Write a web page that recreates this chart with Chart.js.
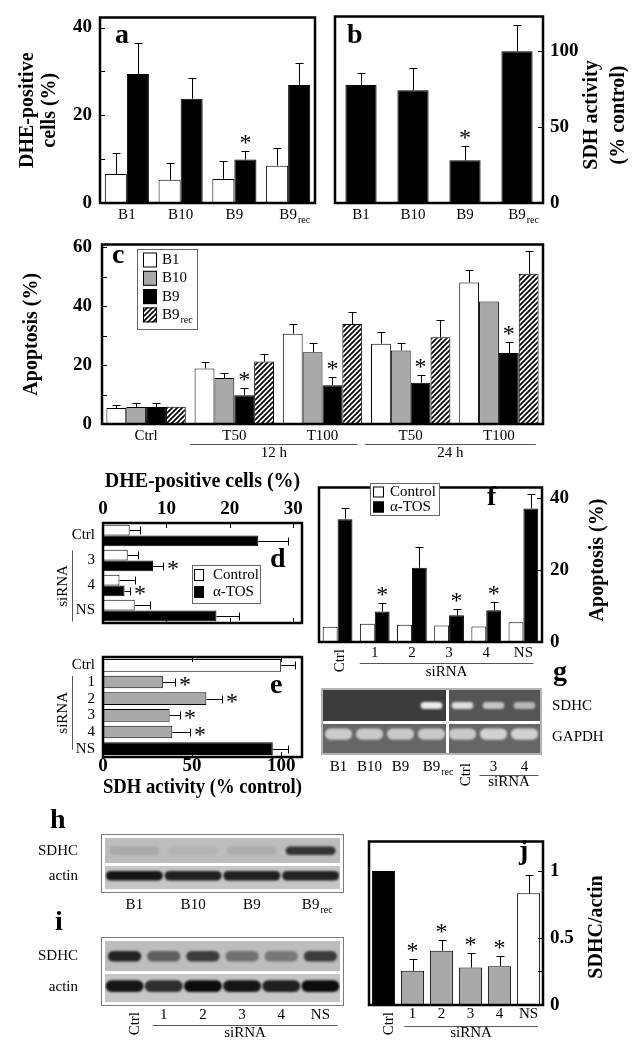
<!DOCTYPE html>
<html>
<head>
<meta charset="utf-8">
<script src="https://cdn.jsdelivr.net/npm/chart.js@4.4.1/dist/chart.umd.min.js"></script>
<style>
  html, body { margin: 0; padding: 0; background: #fff; }
  body { position: relative; width: 640px; height: 1050px; overflow: hidden; }
  canvas { position: absolute; }
</style>
</head>
<body>
<script>
// ---------- data ----------
// a: DHE-positive cells (%), clones
var lines = ['B1', 'B10', 'B9', 'B9rec'];
var dheCtrl = [6.6, 5.3, 5.5, 8.5];
var dheCtrlErr = [11.5, 9.1, 9.6, 12.6];
var dheTos = [29.4, 23.8, 9.9, 26.9];
var dheTosErr = [36.5, 28.5, 11.8, 31.9];
var dheTosStar = [0, 0, 1, 0];
var aTicks = [0, 10, 20, 30, 40];
// b: SDH activity (% control)
var sdh = [77.8, 74.3, 28.1, 100];
var sdhErr = [85.8, 88.9, 37.3, 117.4];
var sdhStar = [0, 0, 1, 0];
var bTicks = [0, 50, 100];
// c: apoptosis (%)
var conds = ['Ctrl', 'T50', 'T100', 'T50', 'T100'];
var apoB1 = [5.4, 18.9, 30.7, 27.3, 48.1];
var apoB1Err = [6.6, 21.0, 34.0, 31.2, 52.5];
var apoB10 = [5.8, 15.6, 24.4, 25.0, 41.6];
var apoB10Err = [7.0, 17.4, 27.4, 27.6, null];
var apoB9 = [5.8, 9.8, 13.2, 14.0, 24.1];
var apoB9Err = [7.2, 12.3, 16.1, 16.6, 27.9];
var apoB9Star = [0, 1, 1, 1, 1];
var apoRec = [5.9, 21.2, 34.0, 29.5, 51.1];
var apoRecErr = [null, 23.7, 38.1, 35.3, 58.7];
var cTicks = [0, 10, 20, 30, 40, 50, 60];
// d: DHE-positive cells after siRNA
var dCats = ['Ctrl', '3', '4', 'NS'];
var kdDheCtrl = [4.2, 3.9, 2.6, 5.0];
var kdDheCtrlErr = [5.8, 5.5, 5.0, 7.4];
var kdDheTos = [24.5, 7.9, 3.4, 17.9];
var kdDheTosErr = [29.2, 9.5, 4.3, 21.5];
var kdDheTosStar = [0, 1, 1, 0];
var dTicks = [0, 10, 20, 30];
// e: SDH activity after siRNA
var kdCats = ['Ctrl', '1', '2', '3', '4', 'NS'];
var kdSdh = [100, 33.6, 58, 37.4, 38.9, 95.3];
var kdSdhErr = [107.5, 40.2, 66.7, 43, 48.6, 104];
var kdSdhStar = [0, 1, 1, 1, 1, 0];
var eTicks = [0, 50, 100];
// f: apoptosis after siRNA
var kdApoCtrl = [4.2, 5.1, 4.8, 4.6, 4.3, 5.5];
var kdApoTos = [34.1, 8.5, 20.6, 7.4, 8.8, 37.1];
var kdApoTosErr = [37.3, 10.7, 26.5, 9.1, 11.1, 41];
var kdApoTosStar = [0, 1, 0, 1, 1, 0];
var fTicks = [0, 20, 40];
// g: RT-PCR gel, band intensity 0..1
var gelLanes = ['B1', 'B10', 'B9', 'B9rec', 'Ctrl', '3', '4'];
var gelRows = ['SDHC', 'GAPDH'];
var gelSdhc = [0, 0, 0, 0.95, 0.85, 0.7, 0.62];
var gelGapdh = [0.74, 0.72, 0.72, 0.72, 0.72, 0.78, 0.78];
// h, i: western blots, band intensity 0..1
var blotRows = ['SDHC', 'actin'];
var hLanes = ['B1', 'B10', 'B9', 'B9rec'];
var hSdhc = [0.12, 0.06, 0.1, 0.8];
var hActin = [0.95, 0.9, 0.9, 0.88];
var iLanes = ['Ctrl', '1', '2', '3', '4', 'NS'];
var iSdhc = [0.9, 0.55, 0.75, 0.45, 0.4, 0.75];
var iActin = [0.95, 0.82, 1, 0.95, 0.9, 1];
// j: SDHC/actin
var ratio = [1.0, 0.255, 0.405, 0.279, 0.29, 0.833];
var ratioErr = [null, 0.345, 0.483, 0.386, 0.369, 0.969];
var ratioStar = [0, 1, 1, 1, 1, 0];
var jTicks = [0, 0.25, 0.5, 1];

// ---------- shared setup ----------
Chart.defaults.font.family = '"Liberation Serif", "Times New Roman", serif';
Chart.defaults.color = '#000';
var FAM = Chart.defaults.font.family;
var NUM = {size: 19, weight: 'bold', lineHeight: 1};
var TTL = {size: 20, weight: 'bold', lineHeight: 1.1};
var CAT = {size: 15, lineHeight: 1.2};
var OFF = {display: false, drawTicks: false};
var NOB = {display: false};
var GREY = '#a9a9a9';

var deco = new Map();   // per-canvas extras

function place(L, T, W, H) {
  var c = document.createElement('canvas');
  c.width = W; c.height = H;
  c.style.left = L + 'px'; c.style.top = T + 'px';
  document.body.appendChild(c);
  return c;
}
function fixW(w) { return function (s) { s.width = w; }; }
function fixH(h) { return function (s) { s.height = h; }; }
function useTicks(list) { return function (s) { s.ticks = list.map(function (v) { return {value: v}; }); }; }
function every(step) { return function (v) { return Math.abs(v / step - Math.round(v / step)) > 1e-6 ? '' : v; }; }
function laneTick(rot) {
  return function (v, i) {
    if (i === rot) return '';
    return String(this.getLabelForValue(v)).replace(/rec$/, '');
  };
}
function base(o) {
  o.responsive = false; o.animation = false; o.devicePixelRatio = 1; o.events = [];
  o.plugins = {legend: {display: false}, tooltip: {enabled: false}};
  return o;
}
function mix(c1, c2, t) {
  var p = function (h) { return [1, 3, 5].map(function (k) { return parseInt(h.slice(k, k + 2), 16); }); };
  var A = p(c1), B = p(c2);
  return 'rgb(' + A.map(function (v, k) { return Math.round(v + (B[k] - v) * t); }).join(',') + ')';
}
function hatch() {
  var c = document.createElement('canvas'); c.width = c.height = 5;
  var g = c.getContext('2d');
  g.fillStyle = '#fff'; g.fillRect(0, 0, 5, 5);
  g.strokeStyle = '#000'; g.lineWidth = 1.7;
  g.beginPath();
  g.moveTo(-1, 6); g.lineTo(6, -1);
  g.moveTo(-1, 1); g.lineTo(1, -1);
  g.moveTo(4, 6); g.lineTo(6, 4);
  g.stroke();
  return g.createPattern(c, 'repeat');
}
var HATCH = hatch();

function drawErrors(chart) {
  var ctx = chart.ctx, horiz = chart.options.indexAxis === 'y';
  var vs = horiz ? chart.scales.x : chart.scales.y;
  ctx.save();
  ctx.strokeStyle = '#000'; ctx.fillStyle = '#000'; ctx.lineWidth = 1;
  chart.data.datasets.forEach(function (ds, i) {
    if (!ds.err && !ds.star) return;
    chart.getDatasetMeta(i).data.forEach(function (el, j) {
      var tip = horiz ? el.x : el.y;
      if (ds.err && ds.err[j] != null) {
        tip = Math.round(vs.getPixelForValue(ds.err[j]));
        ctx.beginPath();
        if (horiz) {
          var y = Math.round(el.y) + 0.5;
          ctx.moveTo(el.x, y); ctx.lineTo(tip, y);
          ctx.moveTo(tip + 0.5, y - 4); ctx.lineTo(tip + 0.5, y + 4);
        } else {
          var x = Math.round(el.x) + 0.5;
          ctx.moveTo(x, el.y); ctx.lineTo(x, tip);
          ctx.moveTo(x - 4, tip + 0.5); ctx.lineTo(x + 4, tip + 0.5);
        }
        ctx.stroke();
      }
      if (ds.star && ds.star[j]) {
        ctx.font = '24px ' + FAM;
        ctx.textBaseline = 'alphabetic';
        if (horiz) { ctx.textAlign = 'left'; ctx.fillText('*', tip + 4, el.y + 10); }
        else { ctx.textAlign = 'center'; ctx.fillText('*', el.x, tip - 1); }
      }
    });
  });
  ctx.restore();
}

function subLabel(ctx, text, x, y, align) {
  // draws "B9rec" as B9 with a small "rec"
  var main = text.replace(/rec$/, '');
  ctx.font = '15px ' + FAM; ctx.textBaseline = 'middle'; ctx.textAlign = align;
  ctx.fillText(main, x, y);
  if (main !== text) {
    var w = ctx.measureText(main).width;
    var x0 = align === 'center' ? x + w / 2 : x + w;
    ctx.font = '10px ' + FAM; ctx.textAlign = 'left';
    ctx.fillText('rec', x0 + 1, y + 5);
  }
}

function blotBg(chart, b) {
  var ctx = chart.ctx, a = chart.chartArea, xs = chart.scales.x;
  var mid = Math.round(chart.scales.y.getPixelForValue(1));
  var cut = b.split ? Math.round((xs.getPixelForTick(b.split - 1) + xs.getPixelForTick(b.split)) / 2) : null;
  ctx.save();
  ctx.strokeStyle = b.frame; ctx.lineWidth = b.fw;
  ctx.strokeRect(a.left - b.fo, a.top - b.fo, a.width + 2 * b.fo, a.height + 2 * b.fo);
  [[a.top, mid - 1], [mid + 2, a.bottom]].forEach(function (r, k) {
    if (cut) {
      ctx.fillStyle = b.bg[k][0]; ctx.fillRect(a.left, r[0], cut - 1 - a.left, r[1] - r[0]);
      ctx.fillStyle = b.bg[k][1]; ctx.fillRect(cut + 2, r[0], a.right - cut - 2, r[1] - r[0]);
    } else {
      ctx.fillStyle = b.bg[k][0]; ctx.fillRect(a.left, r[0], a.width, r[1] - r[0]);
    }
  });
  ctx.restore();
}

Chart.register({
  id: 'deco',
  beforeDatasetsDraw: function (chart) {
    var o = deco.get(chart.canvas); if (!o) return;
    if (o.blot) blotBg(chart, o.blot);
    if (o.blur) { chart.ctx.save(); chart.ctx.filter = 'blur(' + o.blur + 'px)'; }
  },
  afterDatasetsDraw: function (chart) {
    var o = deco.get(chart.canvas) || {};
    if (o.blur) chart.ctx.restore();
    drawErrors(chart);
  },
  afterDraw: function (chart) {
    var o = deco.get(chart.canvas); if (!o) return;
    var ctx = chart.ctx, a = chart.chartArea;
    var L = parseFloat(chart.canvas.style.left), T = parseFloat(chart.canvas.style.top);
    ctx.save();
    ctx.fillStyle = '#000';
    // inner tick marks
    (o.inTicks || []).forEach(function (t) {
      var sc = chart.scales[t.axis];
      ctx.strokeStyle = '#000'; ctx.lineWidth = 1;
      sc.ticks.forEach(function (tk) {
        var p = Math.round(sc.getPixelForValue(tk.value)) + 0.5;
        ctx.beginPath();
        if (t.side === 'left' || t.side === 'right') {
          if (p < a.top + 3 || p > a.bottom - 3) return;
          var x0 = t.side === 'left' ? a.left : a.right - 5;
          ctx.moveTo(x0, p); ctx.lineTo(x0 + 5, p);
        } else {
          if (p < a.left + 3 || p > a.right - 3) return;
          var y0 = t.side === 'top' ? a.top : a.bottom - 5;
          ctx.moveTo(p, y0); ctx.lineTo(p, y0 + 5);
        }
        ctx.stroke();
      });
    });
    // plot frame
    if (o.frame) {
      ctx.strokeStyle = '#000'; ctx.lineWidth = o.frame;
      ctx.strokeRect(a.left, a.top, a.width, a.height);
    }
    // panel letter
    if (o.letter) {
      ctx.font = 'bold 28px ' + FAM; ctx.textAlign = 'left'; ctx.textBaseline = 'alphabetic';
      ctx.fillText(o.letter[0], o.letter[1] - L, o.letter[2] - T);
    }
    // legend
    if (o.legend) {
      var g = o.legend, gx = g.x - L, gy = g.y - T;
      ctx.fillStyle = '#fff'; ctx.fillRect(gx, gy, g.w, g.h);
      ctx.strokeStyle = '#666'; ctx.lineWidth = 1; ctx.strokeRect(gx + 0.5, gy + 0.5, g.w, g.h);
      chart.data.datasets.forEach(function (ds, k) {
        var cy = gy + g.first + k * g.step;
        ctx.fillStyle = ds.backgroundColor;
        ctx.fillRect(gx + g.sx, cy - g.sh / 2, g.sw, g.sh);
        ctx.strokeStyle = '#000';
        ctx.strokeRect(gx + g.sx + 0.5, cy - g.sh / 2 + 0.5, g.sw - 1, g.sh - 1);
        ctx.fillStyle = '#000';
        subLabel(ctx, ds.label, gx + g.tx, cy, 'left');
      });
    }
    // subscript "rec" on lane labels
    if (o.sub) {
      var sx = chart.scales.x, fs = sx.options.ticks.font.size;
      var cyy = sx.top + sx.options.ticks.padding + fs * 0.6;
      chart.data.labels.forEach(function (lab, k) {
        if (!/rec$/.test(lab)) return;
        ctx.font = fs + 'px ' + FAM;
        var w = ctx.measureText(lab.replace(/rec$/, '')).width;
        ctx.font = '10px ' + FAM; ctx.textAlign = 'left'; ctx.textBaseline = 'middle'; ctx.fillStyle = '#000';
        ctx.fillText('rec', sx.getPixelForTick(k) + w / 2 + 1, cyy + 5);
      });
    }
    // rotated lane label
    if (o.rot) {
      var rx = chart.scales.x.getPixelForTick(o.rot.i) + o.rot.dx;
      ctx.save();
      ctx.translate(rx, a.bottom + o.rot.dy);
      ctx.rotate(-Math.PI / 2);
      ctx.font = '15px ' + FAM; ctx.textAlign = 'right'; ctx.textBaseline = 'middle'; ctx.fillStyle = '#000';
      ctx.fillText(chart.data.labels[o.rot.i], 0, 0);
      ctx.restore();
    }
    // group brackets (siRNA, 12 h, 24 h)
    (o.groups || []).forEach(function (gr) {
      ctx.strokeStyle = '#555'; ctx.lineWidth = 1; ctx.fillStyle = '#000';
      ctx.font = '15px ' + FAM; ctx.textAlign = 'center'; ctx.textBaseline = 'middle';
      ctx.beginPath();
      if (chart.options.indexAxis === 'y') {
        var ys = chart.scales.y;
        var y0 = ys.getPixelForTick(gr.a) - gr.e0, y1 = ys.getPixelForTick(gr.b) + gr.e1;
        var lx = a.left + gr.dx + 0.5;
        ctx.moveTo(lx, y0); ctx.lineTo(lx, y1); ctx.stroke();
        ctx.save();
        ctx.translate(a.left + gr.tx, (y0 + y1) / 2);
        ctx.rotate(-Math.PI / 2);
        ctx.fillText(gr.text, 0, 0);
        ctx.restore();
      } else {
        var xs = chart.scales.x;
        var x0 = xs.getPixelForTick(gr.a) - gr.e0, x1 = xs.getPixelForTick(gr.b) + gr.e1;
        var ly = a.bottom + gr.dy + 0.5;
        ctx.moveTo(x0, ly); ctx.lineTo(x1, ly); ctx.stroke();
        ctx.fillText(gr.text, (x0 + x1) / 2, a.bottom + gr.ty);
      }
    });
    // right-hand axis title, reading bottom to top
    if (o.rtitle) {
      var r = o.rtitle;
      ctx.save();
      ctx.translate(r.x - L, r.y - T);
      ctx.rotate(-Math.PI / 2);
      ctx.font = 'bold 20px ' + FAM; ctx.textAlign = 'center'; ctx.textBaseline = 'middle'; ctx.fillStyle = '#000';
      r.lines.forEach(function (s, k) { ctx.fillText(s, 0, k * r.lh); });
      ctx.restore();
    }
    ctx.restore();
  }
});

// ---------- a ----------
var cA = place(0, 0, 330, 232);
deco.set(cA, {frame: 2.5, letter: ['a', 115, 43], sub: true, inTicks: [{axis: 'y', side: 'left'}]});
new Chart(cA, {
  type: 'bar',
  data: {labels: lines, datasets: [
    {data: dheCtrl, err: dheCtrlErr, backgroundColor: '#fff', borderColor: '#000', borderWidth: 1},
    {data: dheTos, err: dheTosErr, star: dheTosStar, backgroundColor: '#000', borderColor: '#000', borderWidth: 1}
  ]},
  options: base({
    layout: {padding: {top: 15, right: 15, bottom: 0, left: 0}},
    datasets: {bar: {categoryPercentage: 0.82, barPercentage: 1}},
    scales: {
      x: {grid: OFF, border: NOB, afterFit: fixH(29),
          ticks: {font: CAT, padding: 3, autoSkip: false, maxRotation: 0, callback: laneTick(-1)}},
      y: {min: 0, max: 42.3, grid: OFF, border: NOB, afterFit: fixW(100), afterBuildTicks: useTicks(aTicks),
          ticks: {font: NUM, padding: 8, callback: every(20)},
          title: {display: true, text: ['DHE-positive', 'cells (%)'], font: TTL, padding: {top: 17}}}
    }
  })
});

// ---------- b ----------
var cB = place(330, 0, 310, 232);
deco.set(cB, {frame: 2.5, letter: ['b', 347, 43], sub: true, inTicks: [{axis: 'y', side: 'right'}],
  rtitle: {lines: ['SDH activity', '(% control)'], x: 592, y: 115, lh: 27}});
new Chart(cB, {
  type: 'bar',
  data: {labels: lines, datasets: [
    {data: sdh, err: sdhErr, star: sdhStar, backgroundColor: '#000', borderColor: '#000', borderWidth: 1}
  ]},
  options: base({
    layout: {padding: {top: 15, right: 0, bottom: 0, left: 5}},
    datasets: {bar: {categoryPercentage: 1, barPercentage: 0.6}},
    scales: {
      x: {grid: OFF, border: NOB, afterFit: fixH(29),
          ticks: {font: CAT, padding: 3, autoSkip: false, maxRotation: 0, callback: laneTick(-1)}},
      y: {position: 'right', min: 0, max: 122.9, grid: OFF, border: NOB, afterFit: fixW(97), afterBuildTicks: useTicks(bTicks),
          ticks: {font: NUM, padding: 7}}
    }
  })
});

// ---------- c ----------
var cC = place(0, 225, 560, 240);
deco.set(cC, {frame: 2.5, letter: ['c', 112, 263], inTicks: [{axis: 'y', side: 'left'}],
  legend: {x: 137, y: 249, w: 60, h: 80, first: 11, step: 18.3, sx: 6, sw: 14, sh: 15, tx: 25},
  groups: [{a: 1, b: 2, e0: 44, e1: 35, dy: 20, ty: 29, text: '12 h'},
           {a: 3, b: 4, e0: 46, e1: 37, dy: 20, ty: 29, text: '24 h'}]});
new Chart(cC, {
  type: 'bar',
  data: {labels: conds, datasets: [
    {label: 'B1', data: apoB1, err: apoB1Err, backgroundColor: '#fff', borderColor: '#000', borderWidth: 1},
    {label: 'B10', data: apoB10, err: apoB10Err, backgroundColor: GREY, borderColor: '#000', borderWidth: 1},
    {label: 'B9', data: apoB9, err: apoB9Err, star: apoB9Star, backgroundColor: '#000', borderColor: '#000', borderWidth: 1},
    {label: 'B9rec', data: apoRec, err: apoRecErr, backgroundColor: HATCH, borderColor: '#000', borderWidth: 1}
  ]},
  options: base({
    layout: {padding: {top: 14, right: 17, bottom: 0, left: 0}},
    datasets: {bar: {categoryPercentage: 0.9, barPercentage: 1}},
    scales: {
      x: {grid: OFF, border: NOB, afterFit: fixH(41),
          ticks: {font: CAT, padding: 3, autoSkip: false, maxRotation: 0}},
      y: {min: 0, max: 61, grid: OFF, border: NOB, afterFit: fixW(102), afterBuildTicks: useTicks(cTicks),
          ticks: {font: NUM, padding: 10, callback: every(20)},
          title: {display: true, text: 'Apoptosis (%)', font: TTL, padding: {top: 21}}}
    }
  })
});

// ---------- d ----------
var cD = place(0, 470, 320, 170);
deco.set(cD, {frame: 2.5, letter: ['d', 270, 567], inTicks: [{axis: 'x', side: 'top'}, {axis: 'x', side: 'bottom'}],
  legend: {x: 192, y: 565, w: 68, h: 38, first: 10, step: 17, sx: 2, sw: 10, sh: 12, tx: 21},
  groups: [{a: 1, b: 3, e0: 10, e1: 11, dx: -31, tx: -40, text: 'siRNA'}]});
new Chart(cD, {
  type: 'bar',
  data: {labels: dCats, datasets: [
    {label: 'Control', data: kdDheCtrl, err: kdDheCtrlErr, backgroundColor: '#fff', borderColor: '#000', borderWidth: 1},
    {label: 'α-TOS', data: kdDheTos, err: kdDheTosErr, star: kdDheTosStar, backgroundColor: '#000', borderColor: '#000', borderWidth: 1}
  ]},
  options: base({
    indexAxis: 'y',
    layout: {padding: {top: 0, right: 18, bottom: 4, left: 0}},
    datasets: {bar: {categoryPercentage: 0.86, barPercentage: 1}},
    scales: {
      y: {grid: OFF, border: NOB, afterFit: fixW(103),
          ticks: {font: CAT, padding: 8, autoSkip: false}},
      x: {position: 'top', min: 0, max: 31.4, grid: OFF, border: NOB, afterFit: fixH(53), afterBuildTicks: useTicks(dTicks),
          ticks: {font: NUM, padding: 4},
          title: {display: true, text: 'DHE-positive cells (%)', font: TTL, padding: {top: 1, bottom: 0}}}
    }
  })
});

// ---------- e ----------
var cE = place(0, 640, 320, 160);
deco.set(cE, {frame: 2.5, letter: ['e', 270, 693], inTicks: [{axis: 'x', side: 'top'}, {axis: 'x', side: 'bottom'}],
  groups: [{a: 1, b: 5, e0: 6, e1: 1, dx: -31, tx: -40, text: 'siRNA'}]});
new Chart(cE, {
  type: 'bar',
  data: {labels: kdCats, datasets: [
    {data: kdSdh, err: kdSdhErr, star: kdSdhStar,
     backgroundColor: ['#fff', GREY, GREY, GREY, GREY, '#000'], borderColor: '#000', borderWidth: 1}
  ]},
  options: base({
    indexAxis: 'y',
    layout: {padding: {top: 6, right: 18, bottom: 0, left: 0}},
    datasets: {bar: {categoryPercentage: 0.76, barPercentage: 1}},
    scales: {
      y: {grid: OFF, border: NOB, afterFit: fixW(103),
          ticks: {font: CAT, padding: 8, autoSkip: false}},
      x: {min: 0, max: 111.7, grid: OFF, border: NOB, afterFit: fixH(43), afterBuildTicks: useTicks(eTicks),
          ticks: {font: NUM, padding: 0},
          title: {display: true, text: 'SDH activity (% control)', font: TTL, padding: {top: 0, bottom: 1}}}
    }
  })
});

// ---------- f ----------
var cF = place(315, 470, 325, 215);
deco.set(cF, {frame: 2.5, letter: ['f', 487, 505], inTicks: [{axis: 'y', side: 'right'}],
  legend: {x: 370, y: 483, w: 69, h: 32, first: 9, step: 15, sx: 3, sw: 11, sh: 11, tx: 20},
  rot: {i: 0, dx: 2, dy: 7},
  groups: [{a: 1, b: 5, e0: 15, e1: 10, dy: 21, ty: 30, text: 'siRNA'}],
  rtitle: {lines: ['Apoptosis (%)'], x: 598, y: 560, lh: 0}});
new Chart(cF, {
  type: 'bar',
  data: {labels: kdCats, datasets: [
    {label: 'Control', data: kdApoCtrl, backgroundColor: '#fff', borderColor: '#000', borderWidth: 1},
    {label: 'α-TOS', data: kdApoTos, err: kdApoTosErr, star: kdApoTosStar, backgroundColor: '#000', borderColor: '#000', borderWidth: 1}
  ]},
  options: base({
    layout: {padding: {top: 7, right: 0, bottom: 0, left: 4}},
    datasets: {bar: {categoryPercentage: 0.8, barPercentage: 1}},
    scales: {
      x: {grid: OFF, border: NOB, afterFit: fixH(43),
          ticks: {font: CAT, padding: 2, autoSkip: false, maxRotation: 0, callback: laneTick(0)}},
      y: {position: 'right', min: 0, max: 42.9, grid: OFF, border: NOB, afterFit: fixW(98), afterBuildTicks: useTicks(fTicks),
          ticks: {font: NUM, padding: 8}}
    }
  })
});

// ---------- g (gel) ----------
var gelBg = [['#3c3c3c', '#555555'], ['#666666', '#666666']];
var cG = place(318, 660, 322, 130);
deco.set(cG, {letter: ['g', 553, 680], sub: true, blur: 1.2,
  blot: {split: 4, bg: gelBg, frame: '#b4b4b4', fw: 2, fo: 1},
  rot: {i: 4, dx: 4, dy: 10},
  groups: [{a: 5, b: 6, e0: 14, e1: 14, dy: 22, ty: 29, text: 'siRNA'}]});
new Chart(cG, {
  type: 'bar',
  data: {labels: gelLanes, datasets: [
    {data: gelSdhc.map(function () { return [1.4, 1.62]; }), grouped: false, barPercentage: 0.7, categoryPercentage: 1,
     backgroundColor: gelSdhc.map(function (v, k) { return mix(k < 4 ? gelBg[0][0] : gelBg[0][1], '#f5f5f5', v); }),
     borderWidth: 0, borderRadius: 5, borderSkipped: false},
    {data: gelGapdh.map(function () { return [0.42, 0.78]; }), grouped: false, barPercentage: 0.88, categoryPercentage: 1,
     backgroundColor: gelGapdh.map(function (v) { return mix(gelBg[1][0], '#f0f0f0', v); }),
     borderWidth: 0, borderRadius: 6, borderSkipped: false}
  ]},
  options: base({
    layout: {padding: {top: 30, right: 0, bottom: 0, left: 5}},
    scales: {
      x: {grid: OFF, border: NOB, afterFit: fixH(37),
          ticks: {font: CAT, padding: 5, autoSkip: false, maxRotation: 0, callback: laneTick(4)}},
      y: {position: 'right', min: 0, max: 2, grid: OFF, border: NOB, afterFit: fixW(100),
          afterBuildTicks: useTicks([0.5, 1.5]),
          ticks: {font: CAT, padding: 12, callback: function (v) { return v > 1 ? gelRows[0] : gelRows[1]; }}}
    }
  })
});

// ---------- h, i (western blots) ----------
var filmBg = [['#bdbdbd'], ['#c6c6c6']];
function blot(canvas, lanes, sdhc, actin, top, xh, rot) {
  return new Chart(canvas, {
    type: 'bar',
    data: {labels: lanes, datasets: [
      {data: sdhc.map(function () { return [1.33, 1.67]; }), grouped: false, barPercentage: 0.85, categoryPercentage: 1,
       backgroundColor: sdhc.map(function (v) { return mix(filmBg[0][0], '#111111', v); }),
       borderWidth: 0, borderRadius: 6, borderSkipped: false},
      {data: actin.map(function () { return [0.33, 0.71]; }), grouped: false, barPercentage: 0.97, categoryPercentage: 1,
       backgroundColor: actin.map(function (v) { return mix(filmBg[1][0], '#0c0c0c', v); }),
       borderWidth: 0, borderRadius: 6, borderSkipped: false}
    ]},
    options: base({
      layout: {padding: {top: top, right: 10, bottom: 0, left: 0}},
      scales: {
        x: {grid: OFF, border: NOB, afterFit: fixH(xh),
            ticks: {font: CAT, padding: rot < 0 ? 7 : 4, autoSkip: false, maxRotation: 0, callback: laneTick(rot)}},
        y: {min: 0, max: 2, grid: OFF, border: NOB, afterFit: fixW(85),
            afterBuildTicks: useTicks([0.5, 1.5]),
            ticks: {font: CAT, padding: 27, callback: function (v) { return v > 1 ? blotRows[0] : blotRows[1]; }}}
      }
    })
  });
}
var cH = place(20, 800, 330, 125);
deco.set(cH, {letter: ['h', 50, 828], sub: true, blur: 1.3,
  blot: {split: 0, bg: filmBg, frame: '#7a7a7a', fw: 1, fo: 3.5}});
blot(cH, hLanes, hSdhc, hActin, 38, 26, -1);

var cI = place(20, 905, 330, 145);
deco.set(cI, {letter: ['i', 55, 930], blur: 1.3,
  blot: {split: 0, bg: filmBg, frame: '#7a7a7a', fw: 1, fo: 3.5},
  rot: {i: 0, dx: 10, dy: 10},
  groups: [{a: 1, b: 5, e0: 11, e1: 17, dy: 23, ty: 31, text: 'siRNA'}]});
blot(cI, iLanes, iSdhc, iActin, 36, 48, 0);

// ---------- j ----------
var cJ = place(355, 825, 285, 225);
deco.set(cJ, {frame: 2.5, letter: ['j', 519, 859], inTicks: [{axis: 'y', side: 'right'}],
  rot: {i: 0, dx: 6, dy: 7},
  groups: [{a: 1, b: 5, e0: 8, e1: 9, dy: 21, ty: 28, text: 'siRNA'}],
  rtitle: {lines: ['SDHC/actin'], x: 597, y: 927, lh: 0}});
new Chart(cJ, {
  type: 'bar',
  data: {labels: kdCats, datasets: [
    {data: ratio, err: ratioErr, star: ratioStar,
     backgroundColor: ['#000', GREY, GREY, GREY, GREY, '#fff'], borderColor: '#000', borderWidth: 1}
  ]},
  options: base({
    layout: {padding: {top: 9, right: 0, bottom: 0, left: 14}},
    datasets: {bar: {categoryPercentage: 0.8, barPercentage: 1}},
    scales: {
      x: {grid: OFF, border: NOB, afterFit: fixH(45),
          ticks: {font: CAT, padding: 0, autoSkip: false, maxRotation: 0, callback: laneTick(0)}},
      y: {position: 'right', min: 0, max: 1.22, grid: OFF, border: NOB, afterFit: fixW(97), afterBuildTicks: useTicks(jTicks),
          ticks: {font: NUM, padding: 7, callback: every(0.5)}}
    }
  })
});
</script>
</body>
</html>
